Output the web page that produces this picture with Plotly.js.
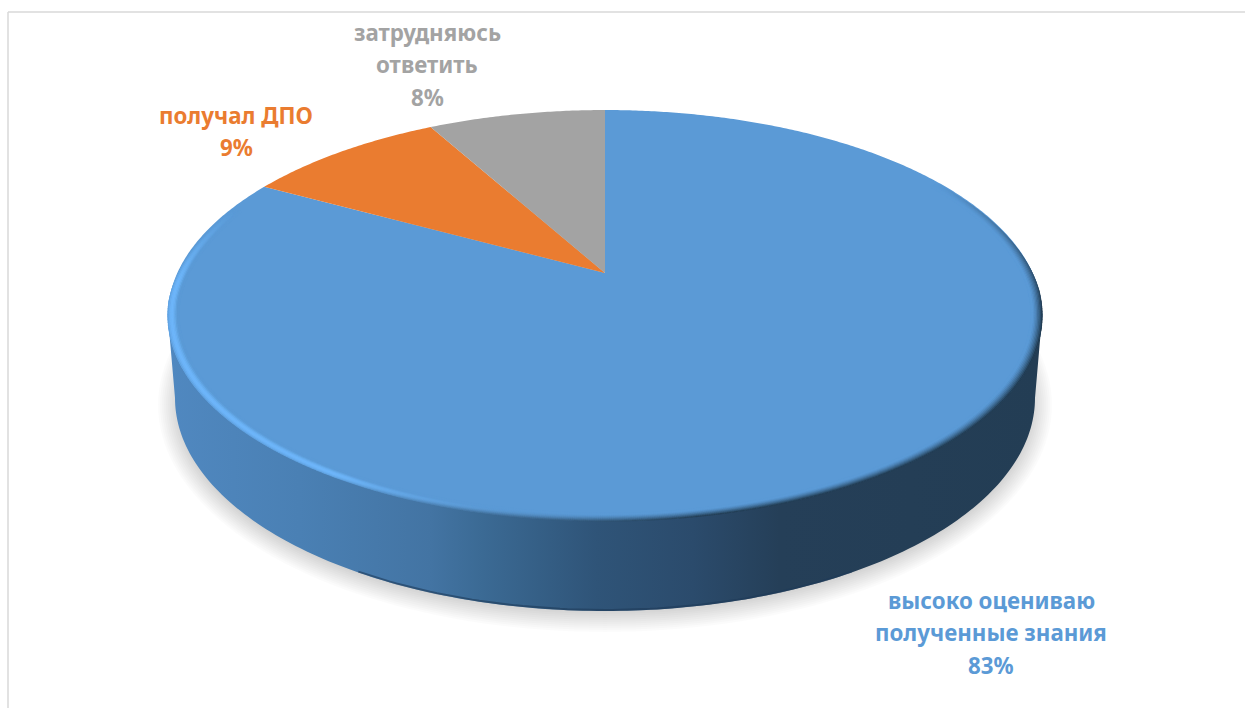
<!DOCTYPE html>
<html lang="ru">
<head>
<meta charset="utf-8">
<script src="https://cdn.plot.ly/plotly-3.0.1.min.js"></script>
<style>html,body{margin:0;padding:0;background:#fff;overflow:hidden}#chart{width:1245px;height:708px}</style>
</head>
<body>
<div id="chart"></div>
<script>
// ---- chart data ----
const categories = ['высоко оцениваю полученные знания', 'получал ДПО', 'затрудняюсь ответить'];
const shares = [83, 9, 8];
const sliceColors = ['#5B9AD6', '#EA7C30', '#A3A3A3'];
const labelLines = [['высоко оцениваю', 'полученные знания'], ['получал ДПО'], ['затрудняюсь', 'ответить']];

// ---- tilted-disc projection (screen pixels as axis units) ----
const APEX = {x: 605, y: 273}, A = 427.7, B = 196.7, K = 0.207;
const FLOOR = {x: 605, y: 398, rx: 430, ry: 213};
const WIDEST = Math.acos(-K) * 180 / Math.PI;
function disc(deg, r) {
  const t = deg * Math.PI / 180, u = r * Math.sin(t), v = r * Math.cos(t), w = 1 + K * v;
  return [APEX.x + A * u / w, APEX.y - B * v / w];
}
function mix(a, b, f) { return a.map((c, i) => c + (b[i] - c) * f); }
function css(c) { return 'rgb(' + c.map(Math.round).join(',') + ')'; }
function ramp(x, a, b) { return Math.max(0, Math.min(1, (x - a) / (b - a))); }

const traces = [];
const base = {hoverinfo: 'skip', showlegend: false};

// soft shadow under the disc
for (let i = 0; i < 12; i++) {
  const grow = 22 - i * 2, xs = [], ys = [];
  for (let d = 0; d <= 360; d += 2) {
    const t = d * Math.PI / 180;
    xs.push(605 + (425 + grow) * Math.cos(t));
    ys.push(405 + (205 + grow) * Math.sin(t));
  }
  traces.push({...base, type: 'scatter', mode: 'none', x: xs, y: ys, fill: 'toself', fillcolor: 'rgba(0,0,0,0.016)'});
}

// side wall with horizontal shading
(function () {
  const xs = [], ys = [];
  const l = disc(360 - WIDEST, 1), r = disc(WIDEST, 1);
  xs.push(r[0]); ys.push(r[1]);
  for (let d = 0; d <= 180; d += 1) {
    const t = d * Math.PI / 180;
    xs.push(FLOOR.x + FLOOR.rx * Math.cos(t));
    ys.push(FLOOR.y + FLOOR.ry * Math.sin(t));
  }
  xs.push(l[0]); ys.push(l[1]);
  traces.push({...base, type: 'scatter', mode: 'none', x: xs, y: ys, fill: 'toself',
    fillgradient: {type: 'horizontal', start: 168, stop: 1042, colorscale: [
      [0, '#5088C0'], [0.15, '#4A80B4'], [0.3, '#4374A3'], [0.36, '#3B6A94'],
      [0.49, '#2F5478'], [0.6, '#2B4B6C'], [0.7, '#253F58'], [1, '#233D54']
    ]}});
  // dark lip along the floor edge
  const ex = [], ey = [];
  for (let d = 55; d <= 125; d += 1) {
    const t = d * Math.PI / 180;
    ex.push(FLOOR.x + FLOOR.rx * Math.cos(t));
    ey.push(FLOOR.y + (FLOOR.ry - 1) * Math.sin(t));
  }
  traces.push({...base, type: 'scatter', mode: 'lines', x: ex, y: ey, line: {color: 'rgba(30,58,88,0.6)', width: 2}});
})();

// top face: one wedge per category, clockwise from 12 o'clock
let cum = 0;
const total = shares.reduce((a, b) => a + b, 0);
shares.forEach((s, i) => {
  const a0 = cum / total * 360, a1 = (cum + s) / total * 360;
  const xs = [APEX.x], ys = [APEX.y];
  for (let d = a0; d < a1; d += 0.5) { const p = disc(d, 1); xs.push(p[0]); ys.push(p[1]); }
  const p = disc(a1, 1); xs.push(p[0], APEX.x); ys.push(p[1], APEX.y);
  traces.push({...base, type: 'scatter', mode: 'none', name: categories[i], x: xs, y: ys, fill: 'toself', fillcolor: sliceColors[i]});
  cum += s;
});

// bevel along the rim of the blue wedge
(function () {
  const face = [91, 154, 214], glow = [110, 182, 250], dark = [35, 62, 85];
  const xs = [], ys = [], cs = [];
  for (let j = 0; j < 8; j++) {
    const t = j / 7;
    for (let d = 60; d <= 292; d += 0.2) {
      const h = ramp(d, 178, 210) * (1 - ramp(d, 268, 290));
      const sh = ramp(d, 60, 100) * (1 - ramp(d, 170, 212));
      if (h === 0 && sh === 0) continue;
      const inset = 0.008 * Math.max(1 - ramp(d, 65, 95), ramp(d, 262, 282));
      const r = 0.998 - inset - 0.003 * j;
      let c = mix(face, glow, h * Math.sin(Math.PI * Math.min(1, t * 0.95 + 0.12)));
      c = mix(c, dark, sh * Math.pow(1 - t, 1.4));
      const p = disc(d, r);
      xs.push(p[0]); ys.push(p[1]); cs.push(css(c));
    }
  }
  traces.push({...base, type: 'scatter', mode: 'markers', x: xs, y: ys, marker: {size: 2.6, color: cs, line: {width: 0}}, cliponaxis: false});
})();

// labels: real text, one line per annotation
const labelPlace = [{x: 991, y: 600, step: 32.5}, {x: 236, y: 115, step: 32.5}, {x: 427, y: 32, step: 32.5}];
const annotations = [];
labelLines.forEach((lines, i) => {
  const rows = lines.concat([shares[i] + '%']);
  rows.forEach((row, k) => annotations.push({
    x: labelPlace[i].x, y: labelPlace[i].y + k * labelPlace[i].step, xref: 'x', yref: 'y',
    text: '<b>' + row + '</b>', showarrow: false, xanchor: 'center', yanchor: 'middle',
    font: {family: '"Noto Sans", "Open Sans", sans-serif', size: 22.3, color: sliceColors[i]}
  }));
});

const layout = {
  width: 1245, height: 708, margin: {l: 0, r: 0, t: 0, b: 0},
  paper_bgcolor: '#fff', plot_bgcolor: '#fff', showlegend: false, hovermode: false,
  xaxis: {range: [0, 1245], visible: false, fixedrange: true},
  yaxis: {range: [708, 0], visible: false, fixedrange: true},
  annotations: annotations,
  shapes: [
    {type: 'line', xref: 'x', yref: 'y', x0: 8, x1: 1245, y0: 12, y1: 12, line: {color: '#D9D9D9', width: 1.5}},
    {type: 'line', xref: 'x', yref: 'y', x0: 8, x1: 8, y0: 12, y1: 708, line: {color: '#D9D9D9', width: 1.5}}
  ]
};
Plotly.newPlot('chart', traces, layout, {displayModeBar: false, staticPlot: true});
</script>
</body>
</html>
